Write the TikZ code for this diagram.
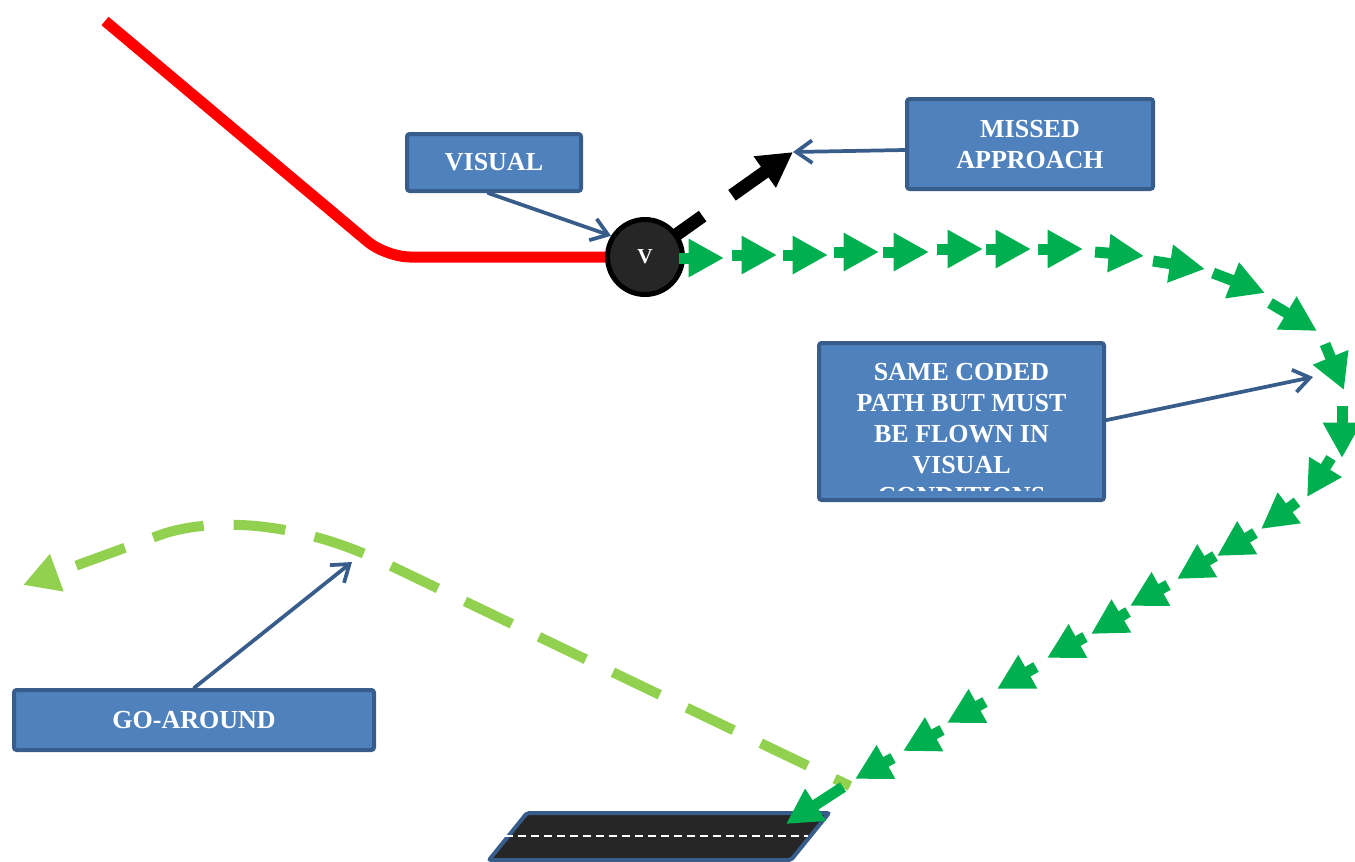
\documentclass[tikz,border=0pt]{standalone}
\usepackage{fontspec}
\setmainfont{Liberation Serif}
\usetikzlibrary{arrows.meta}
\definecolor{boxfill}{HTML}{4F81BD}
\definecolor{boxline}{HTML}{385D8A}
\definecolor{pathred}{HTML}{FF0000}
\definecolor{agreen}{HTML}{00B050}
\definecolor{lgreen}{HTML}{92D050}
\definecolor{dark}{HTML}{262626}
\begin{document}
\begin{tikzpicture}[x=0.75pt,y=-0.75pt,
  boxtext/.style={text=white, align=center, font=\bfseries\fontsize{19.5}{23.25}\selectfont},
  box/.style={draw=boxline, fill=boxfill, line width=3pt, rounded corners=2pt, inner sep=0pt, boxtext},
  conn/.style={draw=boxline, line width=2.8pt, line cap=round, -{Straight Barb[length=12pt,width=17pt]}},
  garr/.style={draw=agreen, line width=8.25pt, -{Triangle[length=26.5pt,width=27pt]}},
  gopath/.style={draw=lgreen, line width=7.5pt, dash pattern=on 39pt off 22.5pt, dash phase=26.25pt, -{Triangle[length=27pt,width=28pt]}},
  missarrow/.style={draw=black, line width=9.75pt, dash pattern=on 53pt off 27pt on 400pt, -{Triangle[length=26pt,width=27pt]}}]
\useasboundingbox (0,0) rectangle (1355,861);

% runway with its dashed centre line
\draw[draw=boxline, fill=dark, line width=3pt, rounded corners=1.5pt]
  (527,813) -- (829,813) -- (791,860) -- (489,860) -- cycle;
\draw[white, line width=1.5pt, dash pattern=on 6pt off 3.75pt] (505,836) -- (808,836);

% fix point and the end of the missed approach
\coordinate (vc) at (645,257);
\coordinate (mtip) at (793,152);

% coded approach path into the fix
\draw[pathred, line width=8.25pt, rounded corners=18pt] (105,21) -- (386,257) -- (vc);

% missed approach
\draw[missarrow] (vc) -- (mtip);

% visual fix
\node[circle, draw=black, fill=dark, line width=3.75pt, minimum size=56.25pt, inner sep=0pt,
      text=white, font=\bfseries\fontsize{16}{18}\selectfont] (v) at (vc) {V};

% go-around track
\draw[gopath] (850,786) -- (385,563) .. controls (285,515) and (200,520.4) .. (160,535) -- (23,585);

% visual segment flown to the runway
\foreach \ax/\ay/\bx/\by in {
  679/258/724/258, 732/255/777/255, 783/255/828/255, 834/252/879/252,
  883/252/929/252, 937/249/983/249, 986/249/1031/249, 1038/249/1083/249,
  1095/252/1144/256, 1153/261/1205/269, 1213/273/1265/293, 1270/303/1317/331,
  1325/344/1344/390, 1342/406/1342/458, 1331/458/1307/497, 1297/502/1261/529,
  1255/533/1217/556, 1215/556/1177/579, 1168/585/1130/606, 1128/612/1091/634,
  1085/637/1047/658, 1036/667/997/689, 985/702/947/723, 942/730/903/751,
  893/758/855/779, 843/787/786/824}
  \draw[garr] (\ax,\ay) -- (\bx,\by);

% labels
\node[box, minimum width=130.5pt, minimum height=42.75pt] (visual) at (494,162.5) {VISUAL};
\node[box, minimum width=184.5pt, minimum height=67.5pt, text depth=0pt] (missed) at (1030,144) {MISSED\\APPROACH};
\node[box, minimum width=213.75pt, minimum height=117.75pt] (same) at (961.5,421.5) {};
\begin{scope}
  \clip (821,345) rectangle (1102,490);
  \node[boxtext, anchor=north, inner sep=0pt] (sametext) at (961.5,363)
    {SAME CODED\\PATH BUT MUST\\BE FLOWN IN\\VISUAL\\CONDITIONS};
\end{scope}
\node[box, minimum width=270pt, minimum height=45pt] (go) at (194,720) {GO-AROUND};

% label pointers
\coordinate (samept) at (1313,377);
\coordinate (gopt) at (352,562);
\draw[conn] ([xshift=-4.5pt]visual.south) -- (v.148);
\draw[conn] ([yshift=-4.5pt]missed.west) -- (mtip);
\draw[conn] ([yshift=1pt]same.east) -- (samept);
\draw[conn] (go.north) -- (gopt);
\end{tikzpicture}
\end{document}
